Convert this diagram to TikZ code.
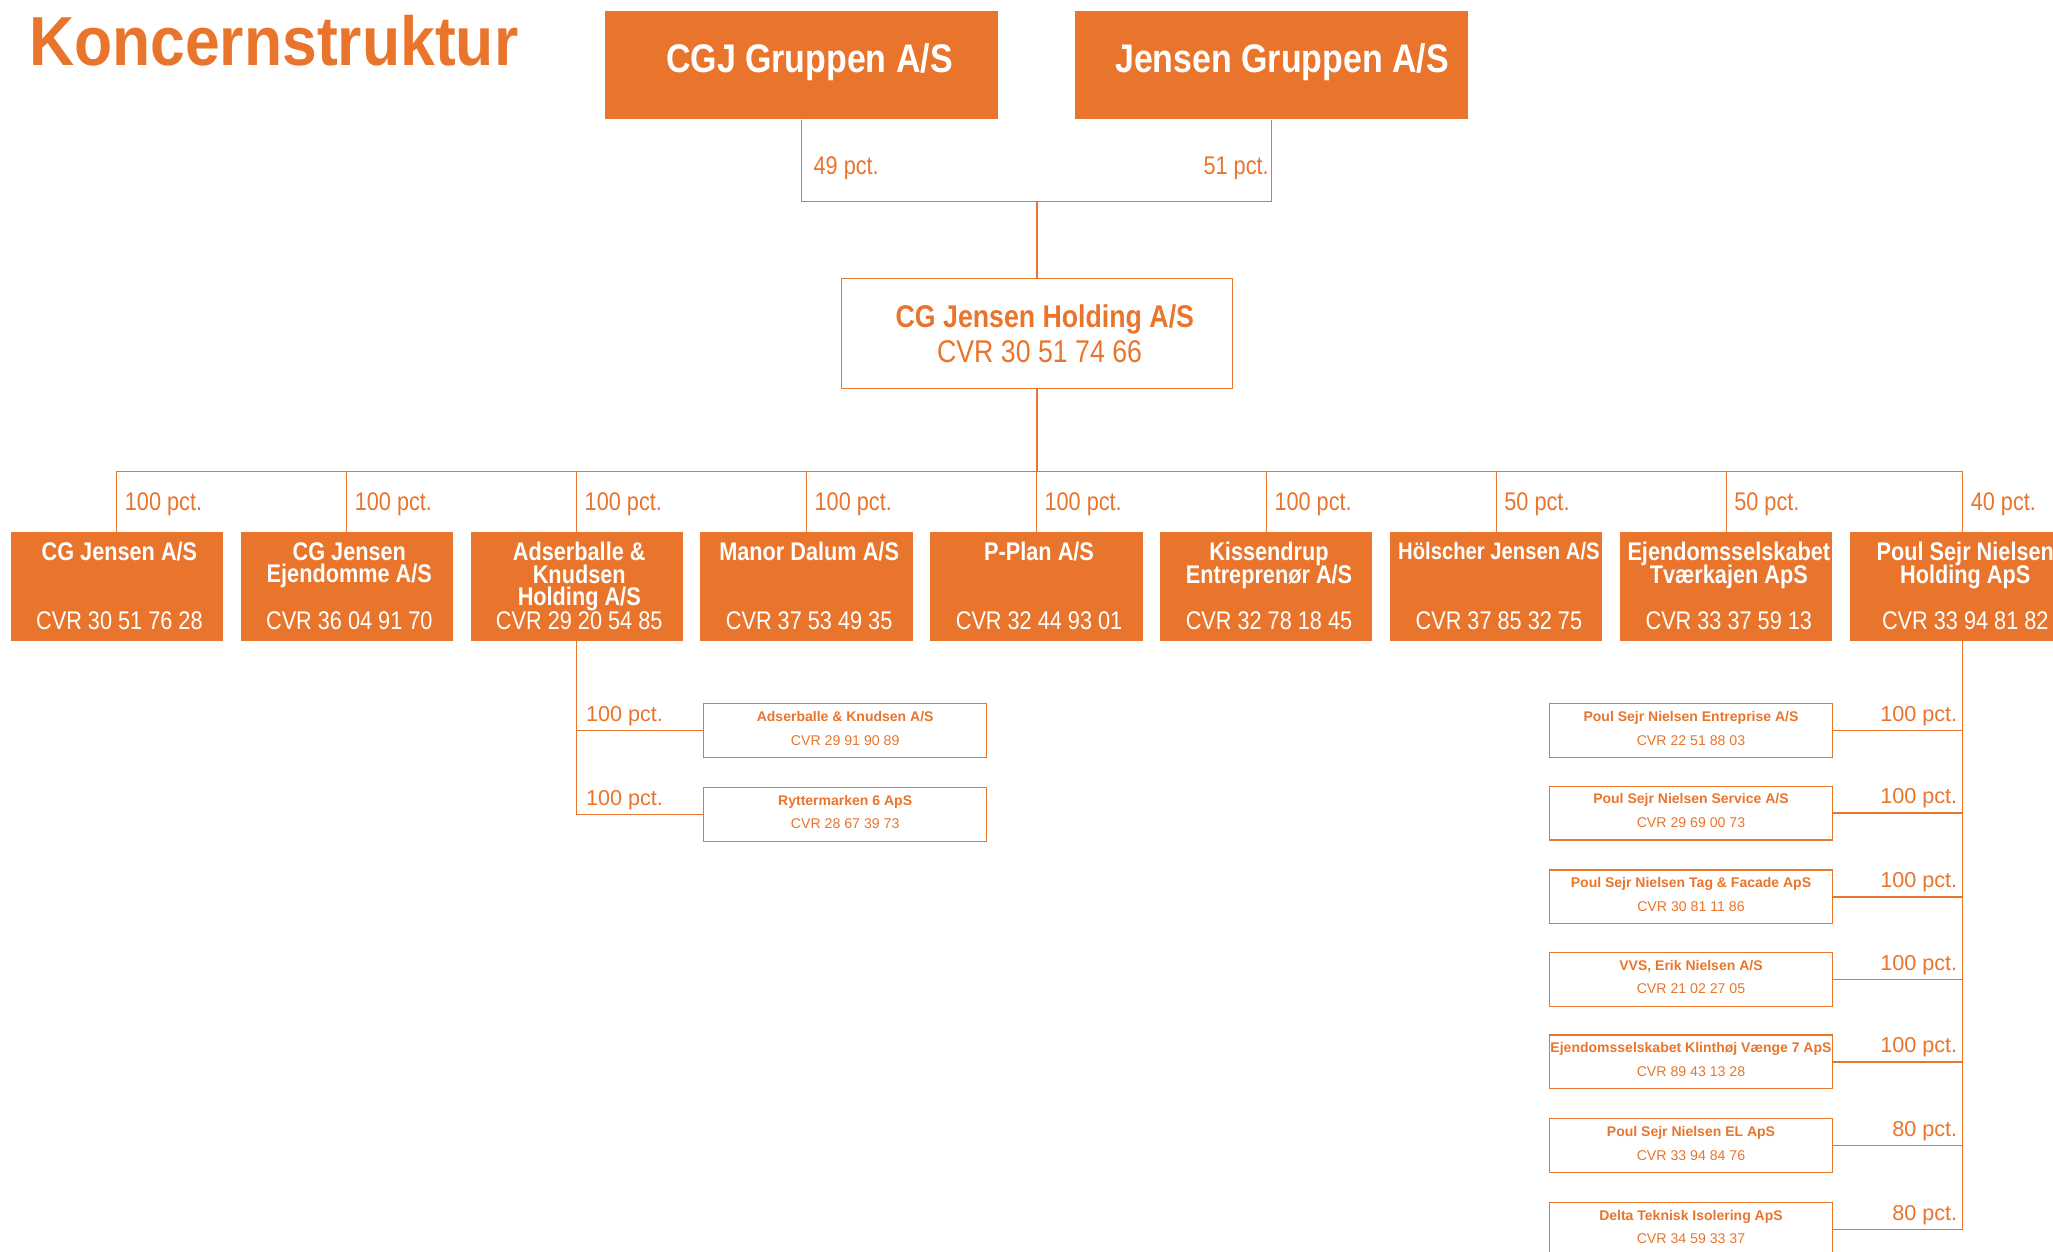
\documentclass[tikz,border=0pt]{standalone}
\usepackage{fontspec}
\setmainfont{Liberation Sans}
\newfontfamily\cnd{Liberation Sans}[FakeStretch=0.85]
\newfontfamily\ttlfont{Liberation Sans}[FakeStretch=0.9]
\definecolor{org}{HTML}{E9752D}
\tikzset{
  ln/.style={draw=org,line width=1pt},
  topbox/.style={fill=org,draw=none,inner sep=0,minimum width=300pt,minimum height=83pt,anchor=north west},
  holdbox/.style={draw=org,line width=1pt,fill=white,inner sep=0,minimum width=299pt,minimum height=84pt,anchor=north west},
  lvbox/.style={fill=org,draw=none,inner sep=0,minimum width=162pt,minimum height=83pt,anchor=north west},
  subbox/.style={draw=org,line width=1pt,fill=white,inner sep=0,minimum width=216pt,minimum height=41pt,anchor=north west},
  toptxt/.style={text=white,inner sep=0,anchor=base,font=\cnd\bfseries\fontsize{30.5}{32}\selectfont},
  pct/.style={text=org,inner sep=0,anchor=base west,font=\cnd\fontsize{19.5}{20}\selectfont},
  subpct/.style={text=org,inner sep=0,font=\fontsize{16.5}{18}\selectfont},
  lvname/.style={text=white,inner sep=0,anchor=north,align=center,font=\cnd\bfseries\fontsize{19.5}{17}\selectfont},
  lvcvr/.style={text=white,inner sep=0,anchor=base,font=\cnd\fontsize{19.5}{20}\selectfont},
  holdname/.style={text=org,inner sep=0,anchor=base,font=\cnd\bfseries\fontsize{24}{26}\selectfont},
  holdcvr/.style={text=org,inner sep=0,anchor=base,font=\cnd\fontsize{24}{26}\selectfont},
  subname/.style={text=org,inner sep=0,anchor=base,font=\bfseries\fontsize{10.7}{12}\selectfont},
  subcvr/.style={text=org,inner sep=0,anchor=base,font=\fontsize{10.8}{12}\selectfont},
}
\newcommand\mklvl[5]{% index, width, name, cvr, pct
  \node[lvbox,minimum width=#2pt] (lv#1) at ({8+(#1-1)*175.6},406) {};
  \node[lvname] (lvn#1) at ([xshift=2pt,yshift=-8pt]lv#1.north) {#3};
  \node[lvcvr] (lvc#1) at ([xshift=2pt,yshift=9pt]lv#1.south) {#4};
  \draw[ln] (lv#1.north) -- (lv#1.north |- bus);
  \node[pct] (lvp#1) at ([xshift=6pt,yshift=16pt]lv#1.north) {#5};
}
\newcommand\mksub[5]{% name, x, y, company, cvr
  \node[subbox] (#1) at (#2,#3) {};
  \node[subname] (#1n) at ([yshift=-14pt]#1.north) {#4};
  \node[subcvr] (#1c) at ([yshift=-32pt]#1.north) {#5};
}
\begin{document}
\setlength{\lineskiplimit}{-20pt}%
\begin{tikzpicture}[x=1pt,y=-1pt]
\clip (0,0) rectangle (1568,955.5);
\fill[white] (0,0) rectangle (1568,955.5);
\coordinate (topbus) at (0,154);
\coordinate (bus) at (0,360);

% title
\node[text=org,inner sep=0,anchor=base west,font=\ttlfont\bfseries\fontsize{53}{55}\selectfont] (title) at (22,50) {Koncernstruktur};

% top owners
\node[topbox] (cgj) at (462,8) {};
\node[toptxt] (cgjt) at ([xshift=6pt,yshift=-47.5pt]cgj.north) {CGJ Gruppen A/S};
\node[topbox] (jen) at (821,8) {};
\node[toptxt] (jent) at ([xshift=8pt,yshift=-47.5pt]jen.north) {Jensen Gruppen A/S};

% holding
\node[holdbox] (hold) at (642,212) {};
\node[holdname] (holdn) at ([xshift=6pt,yshift=-38.5pt]hold.north) {CG Jensen Holding A/S};
\node[holdcvr] (holdc) at ([xshift=2pt,yshift=-64.5pt]hold.north) {CVR 30 51 74 66};

\draw[ln] (cgj.south) |- (jen.south |- topbus) -- (jen.south);
\draw[ln] (hold.north |- topbus) -- (hold.north);
\node[pct] (p49) at ([xshift=9pt]cgj.south |- 0,133) {49 pct.};
\node[pct,anchor=base east] (p51) at ([xshift=-2pt]jen.south |- 0,133) {51 pct.};

% level 2
\draw[ln] (hold.south) -- (hold.south |- bus);
\mklvl{1}{162}{CG Jensen A/S}{CVR 30 51 76 28}{100 pct.}
\mklvl{2}{162}{CG Jensen\\Ejendomme A/S}{CVR 36 04 91 70}{100 pct.}
\mklvl{3}{162}{Adserballe \&\\Knudsen\\Holding A/S}{CVR 29 20 54 85}{100 pct.}
\mklvl{4}{162}{Manor Dalum A/S}{CVR 37 53 49 35}{100 pct.}
\mklvl{5}{162}{P-Plan A/S}{CVR 32 44 93 01}{100 pct.}
\mklvl{6}{162}{Kissendrup\\Entreprenør A/S}{CVR 32 78 18 45}{100 pct.}
\mklvl{7}{162}{{\fontsize{18.2}{17}\selectfont Hölscher Jensen A/S}}{CVR 37 85 32 75}{50 pct.}
\mklvl{8}{162}{Ejendomsselskabet\\Tværkajen ApS}{CVR 33 37 59 13}{50 pct.}
\mklvl{9}{172}{Poul Sejr Nielsen\\Holding ApS}{CVR 33 94 81 82}{40 pct.}
\draw[ln] (lv1.north |- bus) -- (lv9.north |- bus);

% Adserballe subsidiaries
\mksub{a1}{537}{537}{Adserballe \& Knudsen A/S}{CVR 29 91 90 89}
\mksub{a2}{537}{601}{Ryttermarken 6 ApS}{CVR 28 67 39 73}
\draw[ln] (lv3.south) |- (a2.west);
\coordinate (ja1) at (lv3.south |- a1.west);
\coordinate (ja2) at (lv3.south |- a2.west);
\draw[ln] (ja1) -- (a1.west);
\node[subpct,anchor=base west] (pa1) at ([xshift=7pt,yshift=7pt]ja1) {100 pct.};
\node[subpct,anchor=base west] (pa2) at ([xshift=7pt,yshift=7pt]ja2) {100 pct.};

% Poul Sejr Nielsen subsidiaries
\mksub{s1}{1183}{537}{Poul Sejr Nielsen Entreprise A/S}{CVR 22 51 88 03}
\mksub{s2}{1183}{600}{Poul Sejr Nielsen Service A/S}{CVR 29 69 00 73}
\mksub{s3}{1183}{664}{Poul Sejr Nielsen Tag \& Facade ApS}{CVR 30 81 11 86}
\mksub{s4}{1183}{727}{VVS, Erik Nielsen A/S}{CVR 21 02 27 05}
\mksub{s5}{1183}{790}{Ejendomsselskabet Klinthøj Vænge 7 ApS}{CVR 89 43 13 28}
\mksub{s6}{1183}{854}{Poul Sejr Nielsen EL ApS}{CVR 33 94 84 76}
\mksub{s7}{1183}{918}{Delta Teknisk Isolering ApS}{CVR 34 59 33 37}
\draw[ln] (lv9.south) -- (lv9.south |- s7.east);
\foreach \s/\p in {s1/100,s2/100,s3/100,s4/100,s5/100,s6/80,s7/80}{
  \coordinate (j\s) at (lv9.south |- \s.east);
  \draw[ln] (j\s) -- (\s.east);
  \node[subpct,anchor=base east] (p\s) at ([xshift=-4pt,yshift=7pt]j\s) {\p{} pct.};
}
\end{tikzpicture}
\end{document}
